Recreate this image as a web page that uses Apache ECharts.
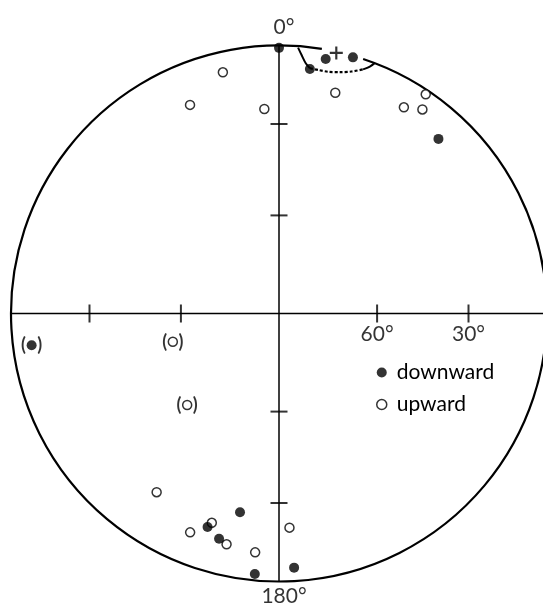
<!DOCTYPE html>
<html>
<head>
<meta charset="utf-8">
<script src="https://cdn.jsdelivr.net/npm/echarts@6/dist/echarts.min.js"></script>
<style>
html, body { margin: 0; padding: 0; background: #fff; }
#chart { width: 543px; height: 605px; }
</style>
</head>
<body>
<div id="chart"></div>
<script>
// declination / inclination (equal-area, lower + upper hemisphere)
var downDec = [0, 10.4, 16.1, 7.2, 42.4, 191.1, 198.5, 194.9, 185.3, 176.6];
var downInc = [1, 3.9, 0.6, 8.9, 12.8, 25.4, 17.1, 14.1, 2.7, 5.6];
var upDec = [346.9, 336.9, 355.9, 14.3, 33.8, 31.2, 35.1, 214.4, 197.8, 202.1, 192.8, 185.7, 177.2];
var upInc = [8.4, 16.5, 24.5, 16.1, 1.8, 11.0, 7.7, 20.3, 19.1, 12.9, 12.7, 11.4, 21.1];
// bracketed (doubtful) directions
var doubtDownDec = [262.7];
var doubtDownInc = [7.7];
var doubtUpDec = [255.1, 225.1];
var doubtUpInc = [56.3, 50.0];
// mean direction and its circle of confidence
var meanDec = [12.4];
var meanInc = [0.5];
var coneSolidADec = [4.1, 5.0, 6.1, 7.2];
var coneSolidAInc = [0.6, 3.6, 6.8, 8.6];
var coneDashDec = [7.2, 9.2, 11.5, 14.2, 16.7, 19.0];
var coneDashInc = [8.6, 8.8, 8.8, 7.9, 6.4, 4.1];
var coneSolidBDec = [19.0, 20.2, 20.9];
var coneSolidBInc = [4.1, 2.1, 0];
// primitive is broken where the cone crosses it
var primitiveGap = [9.2, 18.3];
// axis ticks
var tickInc = [60, 30];
var tickDec = [0, 90, 180, 270];
var tickLabels = ['60°', '30°'];
var endLabels = ['0°', '180°'];

var FONT = 'Lato, "DejaVu Sans", sans-serif';

// equal-area radius (0..1) for an inclination
function eqArea(inc) {
	return Math.SQRT2 * Math.sin((90 - Math.abs(inc)) / 2 * Math.PI / 180);
}
function toPolar(decs, incs) {
	return decs.map(function (d, i) { return [eqArea(incs[i]), d]; });
}

var ticks = [];
tickDec.forEach(function (d) {
	tickInc.forEach(function (inc, j) {
		var horiz = (d === 0 || d === 180);
		var item = {
			value: [eqArea(inc), d],
			symbolSize: horiz ? [17, 2] : [2, 18]
		};
		if (d === 90) {
			item.label = {
				show: true, position: 'bottom', distance: 1,
				formatter: tickLabels[j], color: '#000', fontSize: 21, fontFamily: FONT
			};
		}
		ticks.push(item);
	});
});

var parenLabel = {
	show: true, position: 'inside', formatter: '(\u2002\u2009)',
	color: '#000', fontSize: 18, fontWeight: 'bold', fontFamily: FONT
};

var chart = echarts.init(document.getElementById('chart'));
var option = {
	animation: false,
	backgroundColor: '#fff',
	polar: { center: [279, 313.5], radius: 268 },
	angleAxis: {
		type: 'value', min: 0, max: 360, startAngle: 90, clockwise: true,
		show: false
	},
	radiusAxis: { type: 'value', min: 0, max: 1, show: false },
	legend: {
		orient: 'vertical',
		left: 371,
		top: 357,
		itemWidth: 20,
		itemHeight: 10,
		itemGap: 11,
		selectedMode: false,
		textStyle: { color: '#000', fontSize: 21, fontFamily: FONT, lineHeight: 21 },
		data: [
			{ name: 'downward', icon: 'circle', itemStyle: { color: '#000', borderWidth: 0 } },
			{ name: 'upward', icon: 'circle', itemStyle: { color: '#fff', borderColor: '#000', borderWidth: 1.5 } }
		]
	},
	series: [
		{
			// primitive circle, drawn as an arc so the gap can be left open
			type: 'custom',
			coordinateSystem: 'polar',
			silent: true,
			data: [[1, primitiveGap[1], primitiveGap[0]]],
			renderItem: function (params, api) {
				var c = api.coord([0, 0]);
				var e = api.coord([1, 90]);
				var r = Math.sqrt((e[0] - c[0]) * (e[0] - c[0]) + (e[1] - c[1]) * (e[1] - c[1]));
				var a0 = (api.value(1) - 90) * Math.PI / 180;
				var a1 = (api.value(2) + 360 - 90) * Math.PI / 180;
				return {
					type: 'arc',
					shape: { cx: c[0], cy: c[1], r: r, startAngle: a0, endAngle: a1, clockwise: true },
					style: { stroke: '#000', fill: 'none', lineWidth: 2.2 }
				};
			}
		},
		{
			type: 'line', coordinateSystem: 'polar', silent: true, showSymbol: false,
			lineStyle: { color: '#000', width: 1.5 },
			data: [[1, 0], [1, 180]]
		},
		{
			type: 'line', coordinateSystem: 'polar', silent: true, showSymbol: false,
			lineStyle: { color: '#000', width: 1.5 },
			data: [[1, 90], [1, 270]]
		},
		{
			type: 'scatter', coordinateSystem: 'polar', silent: true,
			symbol: 'rect',
			itemStyle: { color: '#000' },
			data: ticks
		},
		{
			type: 'scatter', coordinateSystem: 'polar', silent: true,
			symbolSize: 0,
			data: [
				{ value: [1, 0], label: { show: true, position: 'top', distance: 8, offset: [5, 0], formatter: endLabels[0] } },
				{ value: [1, 180], label: { show: true, position: 'bottom', distance: 4, offset: [5, 0], formatter: endLabels[1] } }
			],
			label: { color: '#000', fontSize: 21, fontFamily: FONT }
		},
		{
			type: 'line', coordinateSystem: 'polar', silent: true, showSymbol: false, smooth: 0.3,
			lineStyle: { color: '#000', width: 2 },
			data: toPolar(coneSolidADec, coneSolidAInc)
		},
		{
			type: 'line', coordinateSystem: 'polar', silent: true, showSymbol: false, smooth: 0.3,
			lineStyle: { color: '#000', width: 2.2, type: [3, 2] },
			data: toPolar(coneDashDec, coneDashInc)
		},
		{
			type: 'line', coordinateSystem: 'polar', silent: true, showSymbol: false, smooth: 0.3,
			lineStyle: { color: '#000', width: 2 },
			data: toPolar(coneSolidBDec, coneSolidBInc)
		},
		{
			name: 'mean', type: 'scatter', coordinateSystem: 'polar', silent: true,
			symbol: 'path://M5,0h2v5h5v2h-5v5h-2v-5h-5v-2h5z',
			symbolSize: 13,
			itemStyle: { color: '#000' },
			data: toPolar(meanDec, meanInc)
		},
		{
			name: 'upward', type: 'scatter', coordinateSystem: 'polar',
			symbol: 'circle', symbolSize: 9,
			itemStyle: { color: '#fff', borderColor: '#000', borderWidth: 1.5 },
			data: toPolar(upDec, upInc)
		},
		{
			name: 'downward', type: 'scatter', coordinateSystem: 'polar',
			symbol: 'circle', symbolSize: 10,
			itemStyle: { color: '#000' },
			data: toPolar(downDec, downInc)
		},
		{
			name: 'upward (doubtful)', type: 'scatter', coordinateSystem: 'polar',
			symbol: 'circle', symbolSize: 9,
			itemStyle: { color: '#fff', borderColor: '#000', borderWidth: 1.5 },
			label: parenLabel,
			data: toPolar(doubtUpDec, doubtUpInc)
		},
		{
			name: 'downward (doubtful)', type: 'scatter', coordinateSystem: 'polar',
			symbol: 'circle', symbolSize: 10,
			itemStyle: { color: '#000' },
			label: parenLabel,
			data: toPolar(doubtDownDec, doubtDownInc)
		}
	]
};
chart.setOption(option);
</script>
</body>
</html>
